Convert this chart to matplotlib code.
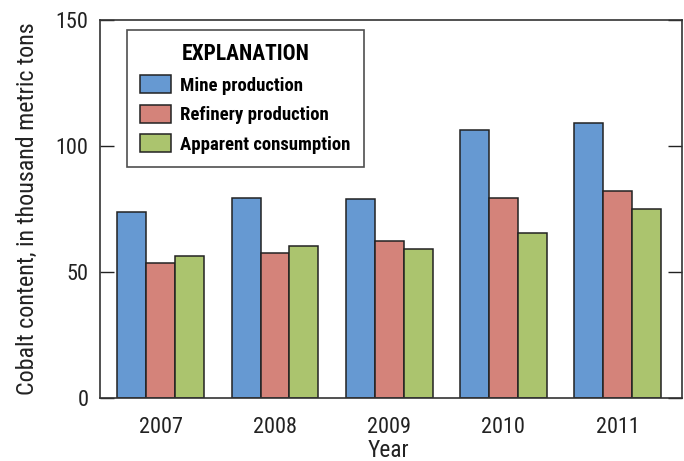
import numpy as np
import matplotlib
matplotlib.use("Agg")
import matplotlib.pyplot as plt

plt.rcParams['font.family'] = ['Roboto Condensed', 'IBM Plex Sans Condensed', 'DejaVu Sans']

years = ['2007', '2008', '2009', '2010', '2011']
mine = [73.6, 79.2, 78.7, 106.2, 108.9]
refinery = [53.3, 57.4, 62.1, 79.2, 82.1]
consumption = [56.1, 60.1, 58.9, 65.5, 74.8]

series = [
    ('Mine production', mine, '#6699d2'),
    ('Refinery production', refinery, '#d4837a'),
    ('Apparent consumption', consumption, '#abc46e'),
]

fig = plt.figure(figsize=(6.84, 4.61), dpi=100)
ax = fig.add_axes([0.1455, 0.1377, 0.8515, 0.8189])

x = np.arange(len(years))
w = 0.253
for i, (name, vals, col) in enumerate(series):
    ax.bar(x + (i - 1) * w, vals, width=w, color=col, edgecolor='#222222',
           linewidth=1.1, label=name)

ax.set_xlim(-0.536, 4.563)
ax.set_ylim(0, 150)
ax.set_yticks([0, 50, 100, 150])
ax.set_xticks(x)
ax.set_xticklabels(years)
ax.tick_params(axis='x', length=0, pad=14, labelsize=16, colors='#222222')
ax.tick_params(axis='y', direction='in', length=10, width=1, right=True,
               labelsize=16, pad=8, colors='#222222')
for s in ax.spines.values():
    s.set_linewidth(1.2)
    s.set_color('#333333')

# x label placed by hand, it sits very close to the bottom edge
fig.text(0.568, 0.009, 'Year', fontsize=16.8, color='#222222',
         ha='center', va='baseline')
ax.set_ylabel('Cobalt content, in thousand metric tons', fontsize=17.3,
              color='#222222', labelpad=12)

leg = ax.legend(loc='upper left', bbox_to_anchor=(0.0467, 0.9735),
                borderaxespad=0, fancybox=False, frameon=True,
                title='EXPLANATION', handlelength=1.65, handleheight=1.07,
                handletextpad=0.5, labelspacing=0.55, borderpad=0.7,
                prop={'weight': 'bold', 'size': 13.5},
                title_fontproperties={'weight': 'bold', 'size': 15.5})
leg.get_frame().set_edgecolor('#222222')
leg.get_frame().set_linewidth(1.2)

fig.savefig('out.png', dpi=100)
